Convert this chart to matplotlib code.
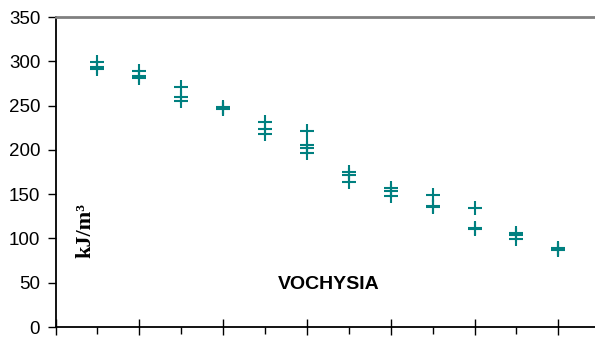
import matplotlib
matplotlib.use("Agg")
import matplotlib.pyplot as plt
from matplotlib.ticker import MultipleLocator

# Data (kJ/m3 per sample group)
groups = [1, 2, 3, 4, 5, 6, 7, 8, 9, 10, 11, 12]
values = [
    [299, 293, 291],
    [289, 283, 281],
    [271, 260, 255],
    [248, 247, 246],
    [231, 224, 218],
    [221, 205, 202, 196],
    [175, 172, 164],
    [157, 154, 148],
    [149, 137, 135],
    [134, 112, 111],
    [106, 104, 99],
    [89, 88, 87],
]
y_ticks = [0, 50, 100, 150, 200, 250, 300, 350]

plt.rcParams['font.family'] = ['Liberation Sans', 'DejaVu Sans']

fig = plt.figure(figsize=(5.95, 3.38), dpi=100)
ax = fig.add_axes([55.5 / 595, 1 - 327 / 338, 544.7 / 595, 310 / 338])

xs, ys = [], []
for g, vals in zip(groups, values):
    for v in vals:
        xs.append(g)
        ys.append(v)
ax.plot(xs, ys, linestyle='none', marker='+', markersize=10, mew=1.5,
        color='#008080')

ax.set_xlim(0, 13)
ax.set_ylim(0, 350)
ax.set_yticks(y_ticks)
ax.tick_params(axis='y', labelsize=13.5, direction='out', length=6, width=1,
               pad=5)

# long (crossing) ticks on even positions, short outside ticks on odd ones
ax.xaxis.set_major_locator(MultipleLocator(2))
ax.xaxis.set_minor_locator(MultipleLocator(1))
ax.tick_params(axis='x', which='major', direction='inout', length=11, width=1,
               labelbottom=False)
ax.tick_params(axis='x', which='minor', direction='out', length=5, width=1)

ax.spines['right'].set_visible(False)
ax.spines['top'].set_color('#808080')
ax.spines['top'].set_linewidth(2)
ax.spines['left'].set_linewidth(1.3)
ax.spines['bottom'].set_linewidth(1.3)

fig.text(85 / 595, 1 - 231 / 338, 'kJ/m³', rotation=90,
         ha='center', va='center', fontsize=16, fontweight='bold',
         family='Liberation Serif')
fig.text(328.5 / 595, 1 - 284.5 / 338, 'VOCHYSIA', ha='center', va='center',
         fontsize=14, fontweight='bold')

fig.savefig('out.png', dpi=100)
